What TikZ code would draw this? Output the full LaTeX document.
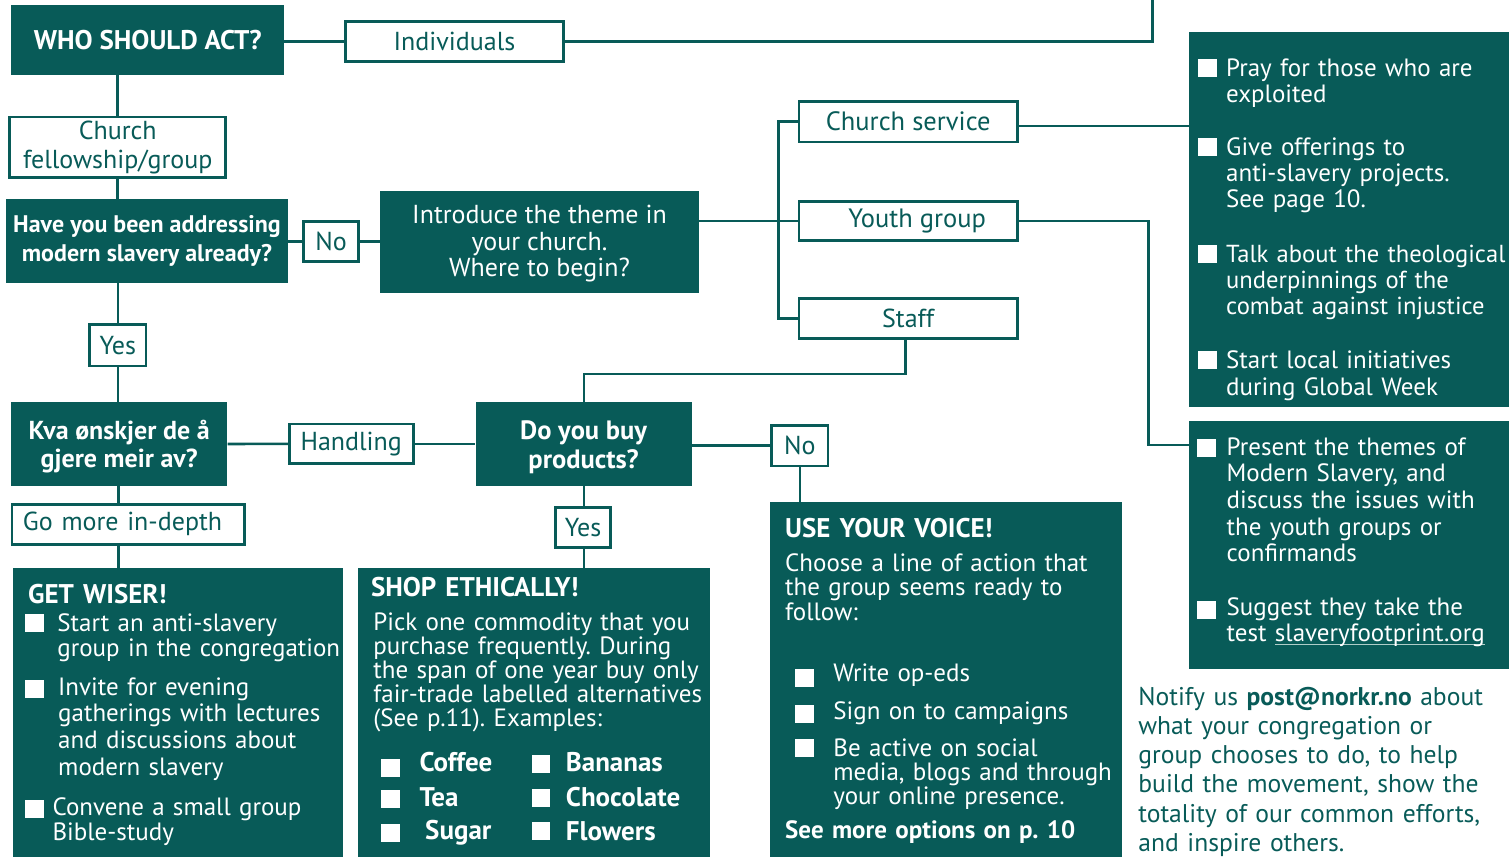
\documentclass[tikz,border=0pt]{standalone}
\usepackage{fontspec}
\setmainfont{PT Sans}
\definecolor{kteal}{RGB}{8,91,88}
\definecolor{ulcol}{RGB}{175,205,200}
\newcommand{\fsz}[2]{\fontsize{#1}{#2}\selectfont\frenchspacing}
\newcommand{\bfsz}[2]{\fontsize{#1}{#2}\selectfont\bfseries\frenchspacing}
\newsavebox{\ulbox}
\newcommand{\myul}[1]{\sbox{\ulbox}{#1}\rlap{\color{ulcol}\rule[-3.5pt]{\wd\ulbox}{1.5pt}}#1}
\begin{document}
\begin{tikzpicture}[x=1pt,y=-1pt,
  fillbox/.style={fill=kteal, draw=none, inner sep=0pt, text=white, align=center},
  outbox/.style={draw=kteal, line width=2.6pt, fill=white, inner sep=0pt, text=kteal, align=center},
  conn/.style={draw=kteal, line width=2.6pt},
  chk/.style={fill=white, draw=none, inner sep=0pt, minimum width=18.5pt, minimum height=18pt, anchor=south west},
  wpara/.style={inner sep=0pt, anchor=base west, align=left, text width=#1, text=white},
  tpara/.style={inner sep=0pt, anchor=base west, align=left, text width=#1, text=kteal},
]
\useasboundingbox (0,0) rectangle (1509,857);

% ---------- boxes ----------
\node[fillbox, minimum width=272.5pt, minimum height=69.7pt, font=\bfsz{27}{28}] (who) at (147.7,39.8) {\raisebox{-2.5pt}{WHO SHOULD ACT?}};
\node[outbox, minimum width=218.5pt, minimum height=40.2pt, font=\fsz{26}{28}] (indiv) at (454.5,41.3) {Individuals};
\node[outbox, minimum width=216pt, minimum height=60.8pt, font=\fsz{26}{29}] (church) at (117.7,147.3) {Church\\fellowship/group};
\node[fillbox, minimum width=282pt, minimum height=84pt, font=\bfsz{24}{29}] (have) at (147,241) {Have you been addressing\\modern slavery already?};
\node[outbox, minimum width=55.5pt, minimum height=40.5pt, font=\fsz{26}{28}] (no1) at (331,241.5) {No};
\node[fillbox, minimum width=319pt, minimum height=101.7pt, font=\fsz{26}{26.5}] (intro) at (539.5,241.8) {\rule{0pt}{22pt}Introduce the theme in\\your church.\\Where to begin?};
\node[outbox, minimum width=218.4pt, minimum height=40.8pt, font=\fsz{26.5}{28}] (csvc) at (908.2,121.7) {Church service};
\node[outbox, minimum width=218.4pt, minimum height=39.5pt, font=\fsz{26.5}{28}] (youth) at (908.2,221) {\hspace*{18pt}Youth group};
\node[outbox, minimum width=218.4pt, minimum height=40.5pt, font=\fsz{26}{28}] (staff) at (908.2,318.5) {Staff};
\node[outbox, minimum width=56.4pt, minimum height=41.4pt, font=\fsz{26}{28}] (yes1) at (117.8,345.3) {Yes};
\node[fillbox, minimum width=216.3pt, minimum height=83.4pt, font=\bfsz{26}{28.4}] (kva) at (119.2,444) {\rule{0pt}{24pt}Kva ønskjer de å\\gjere meir av?};
\node[outbox, minimum width=124pt, minimum height=39.8pt, font=\fsz{26}{28}] (handl) at (351.2,443.8) {Handling};
\node[fillbox, minimum width=216.2pt, minimum height=83.4pt, font=\bfsz{26.5}{28.4}] (dobuy) at (583.6,444) {\rule{0pt}{25pt}Do you buy\\products?};
\node[outbox, minimum width=56.4pt, minimum height=40.8pt, font=\fsz{26}{28}] (no2) at (799.8,445.6) {No};
\node[outbox, minimum width=232.6pt, minimum height=39.9pt] (depth) at (128.2,524.5) {};
\node[tpara=225pt, font=\fsz{26}{28}] (deptht) at (22.8,530) {Go more in-depth};
\node[outbox, minimum width=55.5pt, minimum height=40.2pt, font=\fsz{26}{28}] (yes2) at (583,527.3) {Yes};

% big panels
\node[fillbox, minimum width=329.7pt, minimum height=288.7pt] (wiser) at (177.85,712.65) {};
\node[fillbox, minimum width=351.4pt, minimum height=288.7pt] (shop) at (533.9,712.65) {};
\node[fillbox, minimum width=351.2pt, minimum height=355.3pt] (voice) at (946,679.35) {};
\node[fillbox, minimum width=320pt, minimum height=375pt] (p1) at (1349,219.8) {};
\node[fillbox, minimum width=319.8pt, minimum height=247.7pt] (p2) at (1349.1,544.85) {};

% ---------- connectors ----------
\coordinate (topend) at (1152.5,0);
\coordinate (yc) at (1148.4,445);
\coordinate (sj) at (584,374);
\draw[conn] (indiv.west -| who.east) -- (indiv.west);
\draw[conn] (indiv.east) -| (topend);
\draw[conn] (church.north |- who.south) -- (church.north);
\draw[conn] (church.south) -- (church.south |- have.north);
\draw[conn] (have.east |- no1.west) -- (no1.west);
\draw[conn] (no1.east) -- (no1.east -| intro.west);
\draw[conn] (youth.west -| intro.east) -- (youth.west);
\draw[conn] (csvc.west) -- ++(-19,0) |- (staff.west);
\draw[conn] ([yshift=-4.3pt]csvc.east) -- ([yshift=-4.3pt]csvc.east -| p1.west);
\draw[conn] (youth.east) -| (yc) -- (yc -| p2.west);
\draw[conn] (staff.south -| 905.5,0) |- (sj) -- (sj |- dobuy.north);
\draw[conn] (yes1.north |- have.south) -- (yes1.north);
\draw[conn] (yes1.south) -- (yes1.south |- kva.north);
\draw[conn] (kva.east) -- (handl.west);
\draw[conn] (handl.east) -- (handl.east -| dobuy.west);
\draw[conn] (no2.west -| dobuy.east) -- (no2.west);
\draw[conn] (no2.south) -- (no2.south |- voice.north);
\draw[conn] (depth.north -| 118.3,0) -- (kva.south -| 118.3,0);
\draw[conn] (depth.south -| 118.3,0) -- (wiser.north -| 118.3,0);
\draw[conn] (yes2.north -| 584,0) -- (dobuy.south -| 584,0);
\draw[conn] (yes2.south -| 584,0) -- (shop.north -| 584,0);

% ---------- right panel 1 ----------
\node[chk] (c1) at (1198,76.7) {};
\node[wpara=290pt, font=\fsz{25}{26.5}] (t1) at (1226,76) {Pray for those who are\\exploited};
\node[chk] (c2) at (1198,155.7) {};
\node[wpara=290pt, font=\fsz{25}{26.3}] (t2) at (1226,155) {Give offerings to\\anti-slavery projects.\\See page 10.};
\node[chk] (c3) at (1198,263.3) {};
\node[wpara=290pt, font=\fsz{24.6}{26}] (t3) at (1226,262) {Talk about the theological\\underpinnings of the\\combat against injustice};
\node[chk] (c4) at (1198,369.3) {};
\node[wpara=290pt, font=\fsz{25}{27}] (t4) at (1226,368) {Start local initiatives\\during Global Week};

% ---------- right panel 2 ----------
\node[chk] (c5) at (1197,456.7) {};
\node[wpara=290pt, font=\fsz{25}{26.7}] (t5) at (1226.5,455) {Present the themes of\\Modern Slavery, and\\discuss the issues with\\the youth groups or\\confirmands};
\node[chk] (c6) at (1197,619.3) {};
\node[wpara=290pt, font=\fsz{25}{26.7}] (t6) at (1226.5,615) {Suggest they take the\\test \myul{slaveryfootprint.org}};

% ---------- notify ----------
\node[tpara=370pt, font=\fsz{25.6}{29.3}] (notify) at (1138.2,705) {Notify us \textbf{post@norkr.no} about\\what your congregation or\\group chooses to do, to help\\build the movement, show the\\totality of our common efforts,\\and inspire others.};

% ---------- GET WISER ----------
\node[wpara=310pt, font=\bfsz{27}{26}] (gwt) at (28,603.3) {GET WISER!};
\node[chk] (c7) at (25.2,631.7) {};
\node[wpara=290pt, font=\fsz{25}{25}] (g1) at (57.2,631.7) {Start an anti-slavery\\group in the congregation};
\node[chk] (c8) at (25.2,698.3) {};
\node[wpara=290pt, font=\fsz{25}{26.7}] (g2) at (58,695) {Invite for evening\\gatherings with lectures\\and discussions about\\modern slavery};
\node[chk] (c9) at (25.2,818.3) {};
\node[wpara=290pt, font=\fsz{25}{25.7}] (g3) at (52.4,815) {Convene a small group\\Bible-study};

% ---------- SHOP ETHICALLY ----------
\node[wpara=340pt, font=\bfsz{27}{26}] (sht) at (370.8,596.7) {SHOP ETHICALLY!};
\node[wpara=340pt, font=\fsz{25}{24.2}] (shp) at (373.2,630) {Pick one commodity that you\\purchase frequently. During\\the span of one year buy only\\fair-trade labelled alternatives\\(See p.11). Examples:};
\node[chk] (c10) at (381,777.3) {};
\node[wpara=120pt, font=\bfsz{27}{24}] (s1) at (419.3,771) {Coffee};
\node[chk] (c11) at (381,808.3) {};
\node[wpara=120pt, font=\bfsz{27}{24}] (s2) at (419.3,806.7) {Tea};
\node[chk] (c12) at (381,842.3) {};
\node[wpara=120pt, font=\bfsz{27}{24}] (s3) at (425,839) {Sugar};
\node[chk] (c13) at (531.7,773.3) {};
\node[wpara=140pt, font=\bfsz{27}{24}] (s4) at (565.7,771.7) {Bananas};
\node[chk] (c14) at (531.7,806.7) {};
\node[wpara=140pt, font=\bfsz{27}{24}] (s5) at (565.7,806.7) {Chocolate};
\node[chk] (c15) at (531.7,840) {};
\node[wpara=140pt, font=\bfsz{27}{24}] (s6) at (565.7,840) {Flowers};

% ---------- USE YOUR VOICE ----------
\node[wpara=340pt, font=\bfsz{27}{26}] (uvt) at (785,537.3) {USE YOUR VOICE!};
\node[wpara=340pt, font=\fsz{25}{24.2}] (uvp) at (785,571.7) {Choose a line of action that\\the group seems ready to\\follow:};
\node[chk] (c16) at (795,687.3) {};
\node[wpara=290pt, font=\fsz{25}{24}] (u1) at (833.2,681.7) {Write op-eds};
\node[chk] (c17) at (795,722.7) {};
\node[wpara=290pt, font=\fsz{25}{24}] (u2) at (833.2,719.3) {Sign on to campaigns};
\node[chk] (c18) at (795,756.7) {};
\node[wpara=290pt, font=\fsz{25}{24}] (u3) at (833.2,756) {Be active on social\\media, blogs and through\\your online presence.};
\node[wpara=340pt, font=\bfsz{25}{24}] (uvm) at (785,838.3) {See more options on p. 10};
\end{tikzpicture}
\end{document}
